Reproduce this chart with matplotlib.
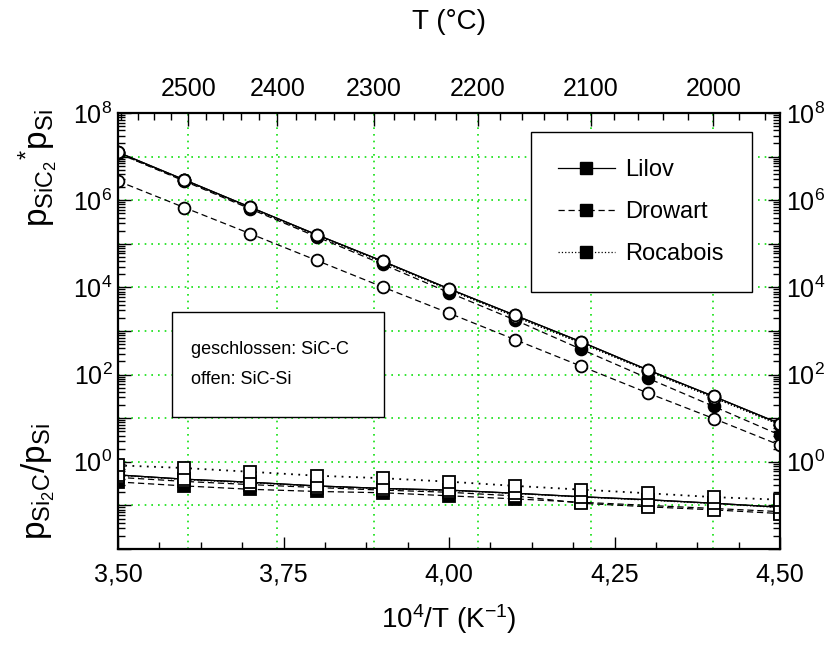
import numpy as np
import matplotlib
matplotlib.use("Agg")
import matplotlib.pyplot as plt
from matplotlib.ticker import FixedLocator, FixedFormatter, FuncFormatter, LogLocator, NullFormatter
from matplotlib.lines import Line2D
from matplotlib.patches import Rectangle

plt.rcParams['font.family'] = ['Liberation Sans', 'DejaVu Sans']
plt.rcParams['mathtext.fontset'] = 'custom'
plt.rcParams['mathtext.rm'] = 'Liberation Sans'
plt.rcParams['mathtext.it'] = 'Liberation Sans'
plt.rcParams['mathtext.bf'] = 'Liberation Sans:bold'

# ---------------- data ----------------
inv_T = [3.5, 3.6, 3.7, 3.8, 3.9, 4.0, 4.1, 4.2, 4.3, 4.4, 4.5]

# p_SiC2 * p_Si
sic2_lilov_C = [1.26e7, 2.95e6, 6.9e5, 1.62e5, 3.98e4, 9.3e3, 2.29e3, 562, 129, 31.6, 7.5]
sic2_lilov_Si = [1.26e7, 2.95e6, 6.9e5, 1.62e5, 3.98e4, 9.3e3, 2.29e3, 562, 129, 31.6, 7.5]
sic2_drowart_C = [1.2e7, 2.75e6, 6.3e5, 1.45e5, 3.39e4, 7.6e3, 1.78e3, 380, 83, 18.6, 4.1]
sic2_drowart_Si = [2.75e6, 6.8e5, 1.7e5, 4.17e4, 1.02e4, 2.57e3, 631, 155, 38, 9.8, 2.4]
sic2_rocabois_C = [1.2e7, 2.88e6, 6.6e5, 1.55e5, 3.8e4, 8.9e3, 2.14e3, 525, 123, 29.5, 7.1]
sic2_rocabois_Si = [1.2e7, 2.88e6, 6.6e5, 1.55e5, 3.8e4, 8.9e3, 2.14e3, 525, 123, 29.5, 7.1]

# p_Si2C / p_Si
si2c_lilov_C = [0.50, 0.40, 0.34, 0.28, 0.245, 0.224, 0.19, 0.158, 0.135, 0.112, 0.091]
si2c_lilov_Si = [0.50, 0.40, 0.34, 0.28, 0.245, 0.224, 0.19, 0.158, 0.135, 0.112, 0.091]
si2c_drowart_C = [0.345, 0.28, 0.234, 0.209, 0.195, 0.166, 0.141, 0.118, 0.10, 0.085, 0.072]
si2c_drowart_Si = [0.44, 0.355, 0.30, 0.257, 0.224, 0.20, 0.165, 0.112, 0.093, 0.079, 0.065]
si2c_rocabois_C = [0.49, 0.39, 0.33, 0.275, 0.24, 0.22, 0.187, 0.155, 0.132, 0.11, 0.089]
si2c_rocabois_Si = [0.83, 0.72, 0.59, 0.48, 0.42, 0.35, 0.28, 0.23, 0.19, 0.155, 0.135]

x_ticks = [3.50, 3.75, 4.00, 4.25, 4.50]
celsius_ticks = [2500, 2400, 2300, 2200, 2100, 2000]
celsius_minor = list(range(1960, 2581, 20))
y_label_exps = [8, 6, 4, 2, 0]

legend_names = ['Lilov', 'Drowart', 'Rocabois']
legend_styles = ['-', '--', ':']
box_lines = ['geschlossen: SiC-C', 'offen: SiC-Si']

GRID_GREEN = '#11e011'

# ---------------- figure ----------------
fig = plt.figure(figsize=(8.27, 6.53), dpi=100)
ax = fig.add_axes([118/827, 1-549/653, 662/827, 436/653])
ax.set_yscale('log')
ax.set_xlim(3.5, 4.5)
ax.set_ylim(1e-2, 1e8)

def to_inv(t):
    return 1e4 / (np.asarray(t, dtype=float) + 273.15)

# grids
for t in celsius_ticks:
    ax.axvline(to_inv(t), color=GRID_GREEN, linestyle=(0, (1, 3)), linewidth=1.2, zorder=0.5)
ax.yaxis.set_major_locator(LogLocator(base=10, numticks=20))
ax.grid(axis='y', which='major', color=GRID_GREEN, linestyle=(0, (1, 3)), linewidth=1.2, zorder=0.5)
ax.set_axisbelow(True)

lw = 0.9
ms_c = 8.5
ms_s = 8.0
dash = (0, (5, 3))
dot = (0, (1, 3))
filled = [
    (sic2_lilov_C, '-', 'o', ms_c), (sic2_rocabois_C, ':', 'o', ms_c), (sic2_drowart_C, dash, 'o', ms_c),
    (si2c_lilov_C, '-', 's', ms_s), (si2c_rocabois_C, ':', 's', ms_s), (si2c_drowart_C, dash, 's', ms_s),
]
for ys, ls, mk, ms in filled:
    ax.plot(inv_T, ys, linestyle=ls, color='black', linewidth=lw, marker=mk, markersize=ms,
            markerfacecolor='black', markeredgecolor='black', markeredgewidth=1.3, zorder=2)
opened = [
    (sic2_rocabois_Si, ':', 'o', ms_c), (sic2_drowart_Si, dash, 'o', ms_c), (sic2_lilov_Si, '-', 'o', ms_c),
    (si2c_drowart_Si, dash, 's', ms_s), (si2c_lilov_Si, '-', 's', ms_s), (si2c_rocabois_Si, dot, 's', ms_s),
]
for ys, ls, mk, ms in opened:
    ax.plot(inv_T, ys, linestyle=ls, color='black', linewidth=lw if ls != dot else 1.3,
            marker=mk, markersize=ms,
            markerfacecolor='white', markeredgecolor='black', markeredgewidth=1.3, zorder=2.5)

# bottom axis
ax.xaxis.set_major_locator(FixedLocator(x_ticks))
ax.xaxis.set_minor_locator(FixedLocator(np.arange(3.5, 4.5001, 0.0625)))
ax.xaxis.set_major_formatter(FuncFormatter(lambda v, p: f'{v:.2f}'.replace('.', ',')))
ax.tick_params(axis='x', which='both', direction='in', top=False, labelsize=18, pad=10)
ax.tick_params(axis='x', which='major', length=9, width=1)
ax.tick_params(axis='x', which='minor', length=5, width=1)

# y axes
def yfmt(v, p):
    n = int(round(np.log10(v)))
    if n in y_label_exps and abs(v - 10**n) < 1e-6 * 10**n:
        return r'$\mathregular{10^{%d}}$' % n
    return ''
ax.yaxis.set_major_formatter(FuncFormatter(yfmt))
ax.yaxis.set_minor_locator(LogLocator(base=10, subs=np.arange(2, 10), numticks=100))
ax.yaxis.set_minor_formatter(NullFormatter())
ax.tick_params(axis='y', which='both', direction='in', left=True, right=True,
               labelleft=True, labelright=True, labelsize=18, pad=4)
ax.tick_params(axis='y', which='major', length=9, width=1)
ax.tick_params(axis='y', which='minor', length=5, width=1)

for s in ax.spines.values():
    s.set_linewidth(1.6)

# top axis in Celsius
ax2 = ax.twiny()
ax2.set_xlim(ax.get_xlim())
ax2.xaxis.set_major_locator(FixedLocator(to_inv(celsius_ticks)))
ax2.xaxis.set_major_formatter(FixedFormatter([str(t) for t in celsius_ticks]))
ax2.xaxis.set_minor_locator(FixedLocator(to_inv(celsius_minor)))
ax2.tick_params(axis='x', which='both', direction='in', labelsize=18, pad=9)
ax2.tick_params(axis='x', which='major', length=9, width=1)
ax2.tick_params(axis='x', which='minor', length=5, width=1)
for s in ax2.spines.values():
    s.set_visible(False)

ax2.set_xlabel('T (°C)', fontsize=20, labelpad=34)
ax.set_xlabel(r'$\mathregular{10^4/T\ (K^{-1})}$', fontsize=20, labelpad=11)

# y labels
fig.text(38/827, 1-168/653, r'$\mathregular{p_{SiC_{2}}{}^{*}p_{Si}}$', rotation=90,
         ha='center', va='center', fontsize=24)
fig.text(38/827, 1-482/653, r'$\mathregular{p_{Si_{2}C}/p_{Si}}$', rotation=90,
         ha='center', va='center', fontsize=24)

# legend
handles = [Line2D([], [], color='black', linestyle=ls if ls != '--' else dash, linewidth=lw,
                  marker='s', markersize=8, markerfacecolor='black') for ls in legend_styles]
leg = ax.legend(handles, legend_names, loc='upper left',
                bbox_to_anchor=(413/662, 262/436, 221/662, 155/436), mode='expand',
                borderaxespad=0, fontsize=17, handlelength=2.4, handletextpad=0.45,
                labelspacing=0.85, borderpad=1.15, fancybox=False, framealpha=1,
                edgecolor='black')
leg.get_frame().set_linewidth(1.0)
leg.set_zorder(5)

# text box
rect = Rectangle((54/662, 132/436), 212/662, 105/436, transform=ax.transAxes,
                 facecolor='white', edgecolor='black', linewidth=1.0, zorder=4)
ax.add_patch(rect)
for i, line in enumerate(box_lines):
    ax.text(73/662, (549-349-31*i)/436, line, transform=ax.transAxes, fontsize=13,
            ha='left', va='center', zorder=5)

fig.savefig('out.png', dpi=100)
